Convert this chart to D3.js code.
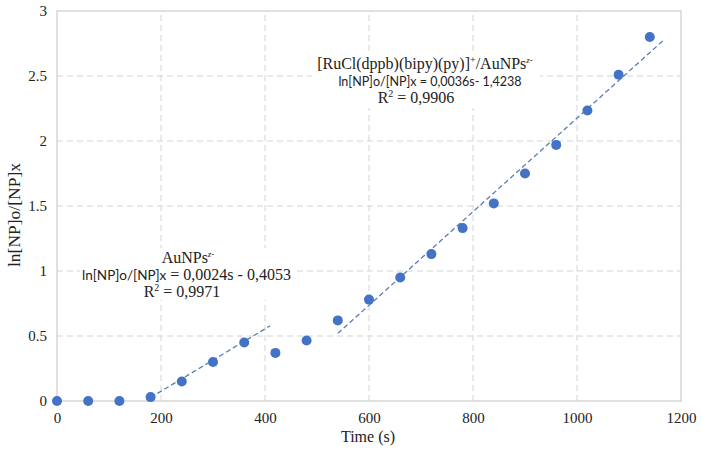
<!DOCTYPE html>
<html>
<head>
<meta charset="utf-8">
<script src="https://cdn.jsdelivr.net/npm/d3@7"></script>
<style>
  body { margin: 0; background: #fff; }
  text { font-family: "Liberation Serif", serif; fill: #222; }
  .sans { font-family: Lato, "Liberation Sans", sans-serif; }
</style>
</head>
<body>
<svg class="chart" width="701" height="452"></svg>
<script>
// data
const times = [0, 60, 120, 180, 240, 300, 360, 420, 480, 540, 600, 660, 720, 780, 840, 900, 960, 1020, 1080, 1140]
const lnValues = [0, 0, 0, 0.03, 0.15, 0.30, 0.45, 0.37, 0.465, 0.62, 0.78, 0.95, 1.13, 1.33, 1.52, 1.75, 1.97, 2.235, 2.51, 2.80]
const xTicks = [0, 200, 400, 600, 800, 1000, 1200]
const yTicks = [0, 0.5, 1, 1.5, 2, 2.5, 3]

// fitted lines: slope, intercept, x range
const fit1 = { slope: 0.0024, intercept: -0.4053, from: 180, to: 410 }
const fit2 = { slope: 0.0036, intercept: -1.4238, from: 540, to: 1165 }

const svg = d3.select("svg.chart")

const x = d3.scaleLinear().domain([0, 1200]).range([57, 681])
const y = d3.scaleLinear().domain([0, 3]).range([401, 11])

const grid = svg.append("g")

// dashed grid
grid.selectAll("line.h")
    .data(yTicks.slice(1, -1))
    .enter().append("line")
    .attr("x1", x(0)).attr("x2", x(1200))
    .attr("y1", d => y(d)).attr("y2", d => y(d))
    .attr("stroke", "#d4d4d4").attr("stroke-dasharray", "6,4")

grid.selectAll("line.v")
    .data(xTicks.slice(1, -1))
    .enter().append("line")
    .attr("x1", d => x(d)).attr("x2", d => x(d))
    .attr("y1", y(0)).attr("y2", y(3))
    .attr("stroke", "#d4d4d4").attr("stroke-dasharray", "6,4")

// frame
svg.append("rect")
    .attr("x", x(0)).attr("y", y(3))
    .attr("width", x(1200) - x(0)).attr("height", y(0) - y(3))
    .attr("fill", "none").attr("stroke", "#d0d0d0").attr("stroke-width", 1.3)

// axes
const xAxis = svg.append("g")
    .attr("transform", `translate(0,${y(0)})`)
    .call(d3.axisBottom(x).tickValues(xTicks).tickSize(0).tickPadding(11).tickFormat(d3.format("d")))
xAxis.select(".domain").remove()
xAxis.selectAll("text").style("font-size", "15px").style("font-family", "Liberation Serif").attr("fill", "#222")

const yAxis = svg.append("g")
    .attr("transform", `translate(${x(0)},0)`)
    .call(d3.axisLeft(y).tickValues(yTicks).tickSize(0).tickPadding(10).tickFormat(d => String(d)))
yAxis.select(".domain").remove()
yAxis.selectAll("text").style("font-size", "15px").style("font-family", "Liberation Serif").attr("fill", "#222")

// axis titles
svg.append("text")
    .attr("x", 368).attr("y", 442)
    .attr("text-anchor", "middle")
    .style("font-size", "16px")
    .text("Time (s)")

svg.append("text")
    .attr("transform", "translate(20,215) rotate(-90)")
    .attr("text-anchor", "middle")
    .style("font-size", "17.5px")
    .text("ln[NP]o/[NP]x")

// annotation backgrounds so the grid stops behind the text
svg.append("rect").attr("x", 80).attr("y", 248).attr("width", 216).attr("height", 52).attr("fill", "#fff")
svg.append("rect").attr("x", 312).attr("y", 54).attr("width", 228).attr("height", 54).attr("fill", "#fff")

// trend lines
const trend = svg.append("g")
;[fit1, fit2].forEach(f => {
    trend.append("line")
        .attr("x1", x(f.from)).attr("y1", y(f.slope * f.from + f.intercept))
        .attr("x2", x(f.to)).attr("y2", y(f.slope * f.to + f.intercept))
        .attr("stroke", "#5a7db5").attr("stroke-width", 1.3)
        .attr("stroke-dasharray", "5,3")
})

// points
svg.append("g").selectAll("circle")
    .data(times)
    .enter().append("circle")
    .attr("cx", d => x(d))
    .attr("cy", (d, i) => y(lnValues[i]))
    .attr("r", 5)
    .attr("fill", "#4472c4")

// annotation for the first fit
const ann1 = svg.append("g").style("font-size", "16px")
const a1 = ann1.append("text").attr("x", 188).attr("y", 263).attr("text-anchor", "middle")
a1.append("tspan").text("AuNPs")
a1.append("tspan").attr("dy", -6).style("font-size", "9px").style("font-style", "italic").text("z-")
const l1 = ann1.append("text").attr("x", 82).attr("y", 280)
l1.append("tspan").attr("class", "sans").style("font-size", "13.5px").text("ln[NP]o/[NP]x")
l1.append("tspan").text(" = 0,0024s - 0,4053")
const r1 = ann1.append("text").attr("x", 182).attr("y", 297).attr("text-anchor", "middle")
r1.append("tspan").text("R")
r1.append("tspan").attr("dy", -6).style("font-size", "10px").text("2")
r1.append("tspan").attr("dy", 6).text(" = 0,9971")

// annotation for the second fit
const ann2 = svg.append("g").attr("text-anchor", "middle").style("font-size", "16px")
const a2 = ann2.append("text").attr("x", 425).attr("y", 69)
a2.append("tspan").text("[RuCl(dppb)(bipy)(py)]")
a2.append("tspan").attr("dy", -6).style("font-size", "10px").text("+")
a2.append("tspan").attr("dy", 6).text("/AuNPs")
a2.append("tspan").attr("dy", -6).style("font-size", "9px").style("font-style", "italic").text("z-")
ann2.append("text").attr("x", 430).attr("y", 86)
    .attr("class", "sans").style("font-size", "12.5px")
    .text("ln[NP]o/[NP]x = 0,0036s- 1,4238")
const r2 = ann2.append("text").attr("x", 416).attr("y", 103)
r2.append("tspan").text("R")
r2.append("tspan").attr("dy", -6).style("font-size", "10px").text("2")
r2.append("tspan").attr("dy", 6).text(" = 0,9906")
</script>
</body>
</html>
